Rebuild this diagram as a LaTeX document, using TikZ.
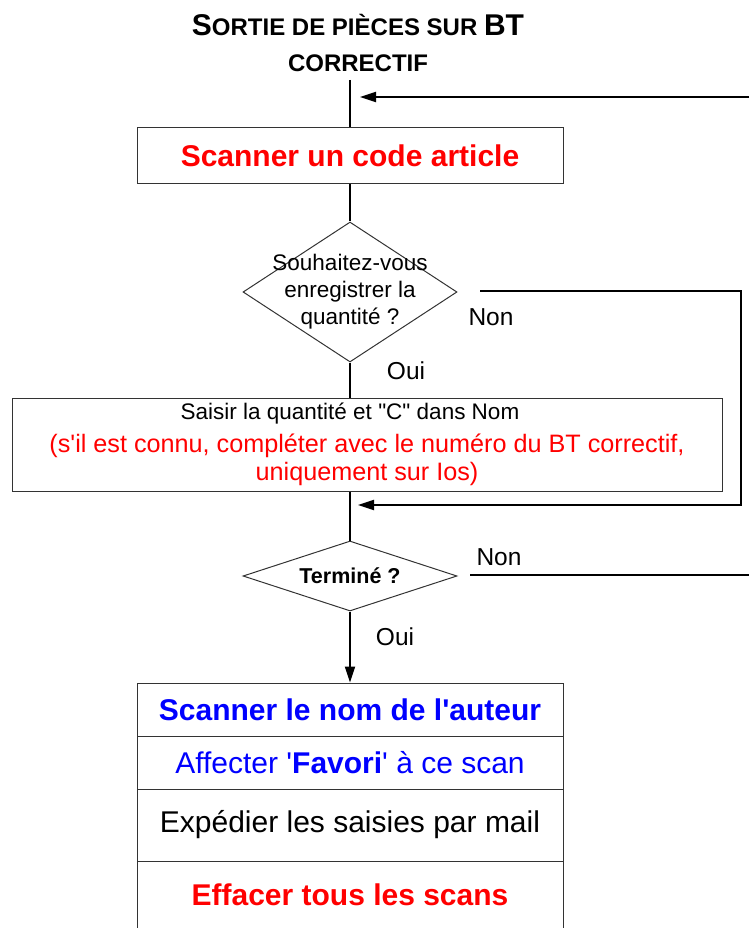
\documentclass[tikz,border=0pt]{standalone}
\usepackage{fontspec}
\setmainfont{Liberation Sans}
\usetikzlibrary{arrows.meta, positioning, shapes.geometric}
\newcommand\titlecap[1]{{\fontsize{30}{36}\selectfont #1}}

\begin{document}
\begin{tikzpicture}[
        x=1pt, y=1pt, on grid, >={Triangle[length=16pt,width=10pt]},
        flow/.style={line width=2pt},
        box/.style={draw=black!80, line width=1pt, minimum width=426pt, inner sep=0pt, align=center},
        decision/.style={diamond, draw=black!80, line width=1pt, minimum width=214pt, inner sep=0pt},
        lbl/.style={font=\fontsize{24.5}{28}\selectfont},
        big/.style={font=\fontsize{30}{36}\selectfont},
        ]
        \useasboundingbox (0,0) rectangle (749,-928);

        \node (title) at (358,-43) [font=\bfseries\fontsize{24}{36}\selectfont, align=center]
            {\titlecap{S}ORTIE DE PIÈCES SUR \titlecap{BT}\\CORRECTIF};

        \coordinate (top) at (350,-80);
        \node[box, big, minimum height=56pt, text=red] (scanart) at (350,-156) {\bfseries Scanner un code article};
        \node[decision, minimum height=140pt,
            label={[align=center, font=\fontsize{22.5}{27}\selectfont]center:Souhaitez-vous\\enregistrer la\\quantité ?}]
            (ask) [below=136pt of scanart] {};
        \node[box, minimum width=710pt, minimum height=93pt, font=\fontsize{22.5}{28}\selectfont]
            (saisir) [below=152.5pt of ask, xshift=17pt]
            {Saisir la quantité et \textquotedbl C\textquotedbl{} dans Nom\hspace*{34pt}\\[5pt]
             \textcolor{red}{\fontsize{25.2}{28}\selectfont (s\textquotesingle il est connu, compléter avec le numéro du BT correctif,}\\
             \textcolor{red}{\fontsize{25.2}{28}\selectfont uniquement sur Ios)}};
        \node[decision, minimum height=70pt,
            label={[font=\bfseries\fontsize{21.5}{24}\selectfont]center:Terminé ?}]
            (done) [below=284pt of ask] {};

        \node[box, big, minimum height=53pt, text=blue] (auteur) [below=133.5pt of done]
            {\bfseries Scanner le nom de l\textquotesingle auteur};
        \node[box, big, minimum height=53pt, text=blue] (favori) [below=53pt of auteur]
            {Affecter \textquotesingle\textbf{Favori}\textquotesingle{} à ce scan};
        \node[box, big, minimum height=72pt] (mail) [below=62.5pt of favori] {Expédier les saisies par mail};
        \node[box, big, minimum height=68pt, text=red] (effacer) [below=70pt of mail]
            {\bfseries Effacer tous les scans};

        % main column
        \draw[flow] (top) -- (scanart);
        \draw[flow] (scanart) -- (ask);
        \draw[flow] (ask) -- (ask.south |- saisir.north);
        \draw[flow] (ask.south |- saisir.south) -- (done);
        \draw[flow,->] (done) -- (auteur);

        % loops back
        \coordinate (back1) at (749,-97);
        \coordinate (tip1) at (360,-97);
        \draw[flow,->] (back1) -- (tip1);
        \coordinate (non1) at (480,-291);
        \coordinate (corner1) at (741,-291);
        \coordinate (tip2) at (358,-505);
        \draw[flow,->] (non1) -- (corner1) |- (tip2);
        \coordinate (non2) at (470,-575);
        \coordinate (out2) at (749,-575);
        \draw[flow] (non2) -- (out2);

        \node[lbl] (nonA) at (491,-317) {Non};
        \node[lbl] (ouiA) at (406,-371) {Oui};
        \node[lbl] (nonB) at (499,-557) {Non};
        \node[lbl] (ouiB) at (395,-637) {Oui};
\end{tikzpicture}
\end{document}
